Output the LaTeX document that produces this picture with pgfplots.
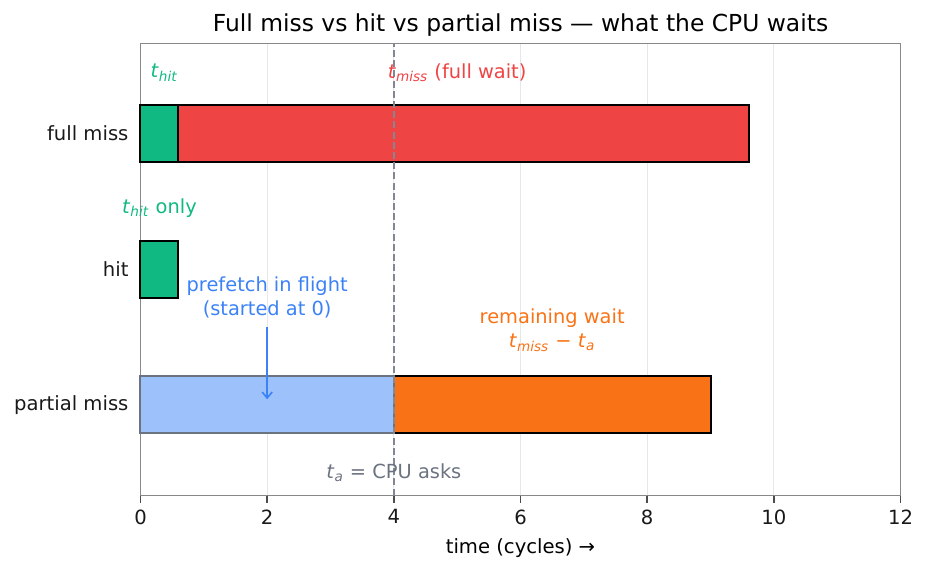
\documentclass[border=0pt]{standalone}
\usepackage{fontspec}
\setmainfont{DejaVu Sans}
\usepackage{pgfplots}
\pgfplotsset{compat=1.18}
\usetikzlibrary{arrows.meta}
\definecolor{cgreen}{HTML}{10B981}
\definecolor{cred}{HTML}{EF4444}
\definecolor{corange}{HTML}{F97316}
\definecolor{cblue}{HTML}{3B82F6}
\definecolor{cbluefill}{HTML}{9DC1FA}
\definecolor{cgray}{HTML}{6B7280}
\definecolor{spine}{HTML}{888888}
\definecolor{gridc}{HTML}{E5E7EB}
\newcommand{\sub}[2]{\textit{#1}\textsubscript{\textit{#2}}}
\begin{document}
\begin{tikzpicture}
\path[use as bounding box] (-70.25pt,-36.75pt) rectangle ++(463pt,284.5pt);
\begin{axis}[
  at={(0,0)}, anchor=south west,
  scale only axis, width=380pt, height=226pt,
  clip=false,
  xmin=0, xmax=12, ymin=-0.67, ymax=2.665,
  xtick={0,2,4,6,8,10,12},
  ytick={0,1,2}, yticklabels={partial miss, hit, full miss},
  xlabel={time (cycles) →},
  title={Full miss vs hit vs partial miss — what the CPU waits},
  title style={font=\fontsize{11.7}{14}\selectfont, yshift=-6pt},
  label style={font=\fontsize{9.8}{12}\selectfont},
  ticklabel style={font=\fontsize{9.8}{12}\selectfont, text=black!90},
  /pgf/number format/assume math mode=true,
  xmajorgrids, grid style={draw=gridc, line width=0.5pt},
  axis line style={draw=spine, line width=0.8pt},
  tick align=outside, xtick pos=left, ytick pos=left,
  major tick length=3.5pt,
  xtick style={draw=black!70, line width=0.8pt},
  ytick style={draw=none},
  yticklabel style={xshift=1pt},
  xbarsty/.style={xbar, bar width=0.42, bar shift=0pt, line width=1pt},
]
\addplot[xbarsty, fill=cred, draw=black] coordinates {(9.6,2)};
\addplot[xbarsty, fill=cgreen, draw=black] coordinates {(0.6,2) (0.6,1)};
\addplot[xbarsty, fill=corange, draw=black] coordinates {(9.0,0)};
\addplot[xbarsty, fill=cbluefill, draw=cgray] coordinates {(4.0,0)};
\addplot[cgray!85, line width=0.8pt, dash pattern=on 3.5pt off 1.6pt] coordinates {(4,-0.67) (4,2.665)};

\node[anchor=west, text=cgreen, font=\fontsize{9.7}{12}\selectfont] at (axis cs:0.05,2.45) {\sub{t}{hit}};
\node[text=cred, font=\fontsize{9.7}{12}\selectfont] at (axis cs:5.0,2.45) {\sub{t}{miss} (full wait)};
\node[text=cgreen, font=\fontsize{9.7}{12}\selectfont] at (axis cs:0.3,1.45) {\sub{t}{hit} only};
\node[text=cblue, font=\fontsize{9.7}{12}\selectfont, align=center] at (axis cs:2.0,0.79) {prefetch in flight\\(started at 0)};
\draw[cblue, line width=0.8pt, -{Straight Barb[length=3pt,width=5pt]}] (axis cs:2,0.575) -- (axis cs:2,0.04);
\node[text=corange, font=\fontsize{9.7}{12}\selectfont, align=center] at (axis cs:6.5,0.55) {remaining wait\\\sub{t}{miss} − \sub{t}{a}};
\node[text=cgray, font=\fontsize{9.7}{12}\selectfont] at (axis cs:4.0,-0.5) {\sub{t}{a} = CPU asks};
\end{axis}
\end{tikzpicture}
\end{document}
